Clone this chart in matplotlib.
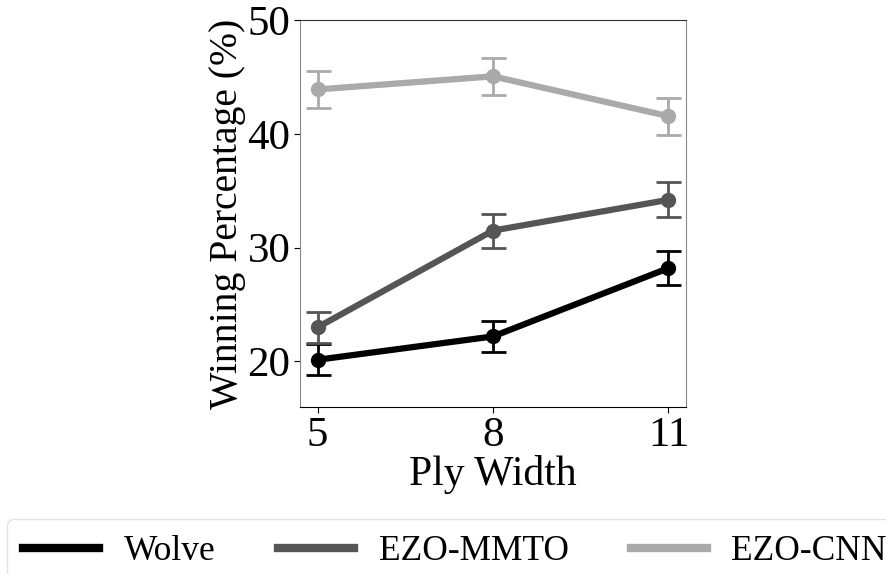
import matplotlib
matplotlib.use("Agg")
import matplotlib.pyplot as plt
from matplotlib.lines import Line2D

plt.rcParams['font.family'] = ['Liberation Serif', 'DejaVu Serif']

ply_width = [5, 8, 11]
series_names = ["Wolve", "EZO-MMTO", "EZO-CNN"]
wolve = [20.15, 22.2, 28.2]
wolve_err = [1.37, 1.37, 1.5]
ezo_mmto = [23.0, 31.5, 34.2]
ezo_mmto_err = [1.35, 1.5, 1.55]
ezo_cnn = [43.9, 45.05, 41.55]
ezo_cnn_err = [1.65, 1.65, 1.63]
colors = ["#000000", "#555555", "#aaaaaa"]

fig = plt.figure(figsize=(8.87, 5.74), dpi=100)
ax = fig.add_axes([300 / 887, 1 - 407 / 574, 386 / 887, 387 / 574])

for name, vals, errs, c in zip(series_names, [wolve, ezo_mmto, ezo_cnn],
                               [wolve_err, ezo_mmto_err, ezo_cnn_err], colors):
    ax.errorbar(ply_width, vals, yerr=errs, color=c, lw=4.5, marker='o',
                markersize=10, capsize=9, elinewidth=2, capthick=2, label=name)

ax.set_ylim(16, 50)
ax.set_xlim(4.7, 11.3)
ax.set_xticks(ply_width)
ax.set_yticks([20, 30, 40, 50])
ax.tick_params(labelsize=31, length=4, pad=3)
ax.set_xlabel("Ply Width", fontsize=30, labelpad=0)
ax.set_ylabel("Winning Percentage (%)", fontsize=28.5, labelpad=1)
ax.spines['left'].set_color('#888888')
ax.spines['right'].set_color('#888888')
ax.spines['top'].set_color('#333333')
ax.spines['bottom'].set_color('#000000')

legend_handles = [Line2D([], [], color=c, lw=6) for c in colors]
fig.legend(legend_handles, series_names, loc='upper left',
           bbox_to_anchor=(7 / 887, 1 - 519 / 574), ncol=3, fontsize=25.5,
           frameon=True, handlelength=2.15, handletextpad=0.7, columnspacing=1.75,
           borderpad=0.45, borderaxespad=0, edgecolor='#dddddd')

fig.savefig("out.png", dpi=100)
